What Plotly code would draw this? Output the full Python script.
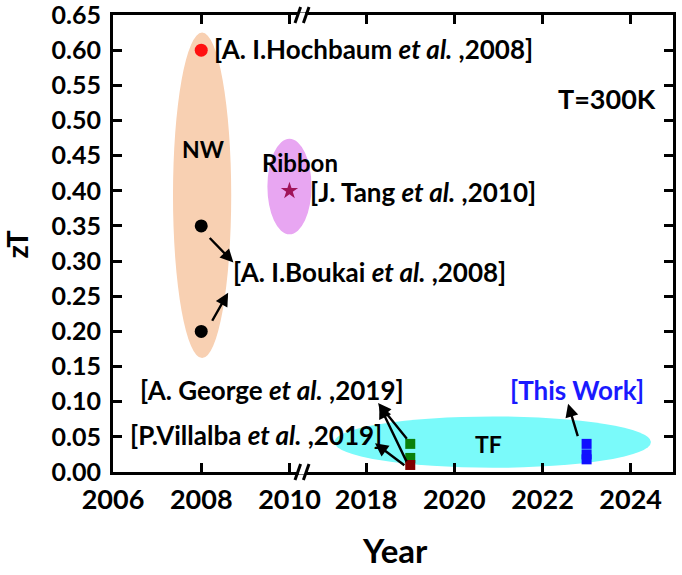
import plotly.graph_objects as go

# ---------------- data ----------------
hoch_x = [2008]; hoch_y = [0.60]
bouk_x = [2008, 2008]; bouk_y = [0.35, 0.20]
tang_x = [2010]; tang_y = [0.40]
george_x = [2019, 2019]; george_y = [0.04, 0.02]
villa_x = [2019]; villa_y = [0.01]
work_x = [2023, 2023, 2023]; work_y = [0.04, 0.025, 0.018]

left_ticks = [2006, 2008, 2010]
right_ticks = [2018, 2020, 2022, 2024]
y_ticks = [round(0.05 * i, 2) for i in range(14)]

FONT = "Lato"
fig = go.Figure()

def mk(x, y, color, symbol, size, xa, ya, name):
    fig.add_trace(go.Scatter(x=x, y=y, mode="markers", name=name,
                             marker=dict(color=color, symbol=symbol, size=size, line=dict(width=0)),
                             xaxis=xa, yaxis=ya, showlegend=False, cliponaxis=False))

mk(hoch_x, hoch_y, "#ff1010", "circle", 13, "x", "y", "Hochbaum")
mk(bouk_x, bouk_y, "black", "circle", 13, "x", "y", "Boukai")
mk(tang_x, tang_y, "#a0145a", "star", 13, "x", "y", "Tang")
mk(george_x, george_y, "#0a800a", "square", 10, "x2", "y2", "George")
mk(villa_x, villa_y, "#800000", "square", 10, "x2", "y2", "Villalba")
mk(work_x, work_y, "#1010ff", "square", 10, "x2", "y2", "This Work")

# ellipses
shapes = [
    dict(type="circle", xref="x", yref="y", x0=2007.36, x1=2008.68, y0=0.162, y1=0.625,
         fillcolor="rgb(248,208,178)", line=dict(width=0), layer="below"),
    dict(type="circle", xref="x", yref="y", x0=2009.5, x1=2010.5, y0=0.338, y1=0.474,
         fillcolor="rgb(232,166,242)", line=dict(width=0), layer="below"),
    dict(type="circle", xref="x2", yref="y2", x0=2017.28, x1=2024.46, y0=0.006, y1=0.079,
         fillcolor="rgb(122,250,250)", line=dict(width=0), layer="below"),
]

# axis break marks
bx = 0.3375
dy_top = 8 / 457
for yb in (0, 1):
    shapes.append(dict(type="line", xref="paper", yref="paper", x0=bx - 0.006, x1=bx + 0.006,
                       y0=yb, y1=yb, line=dict(color="white", width=5), layer="above"))
    for off in (-0.0075, 0.0075):
        shapes.append(dict(type="line", xref="paper", yref="paper",
                           x0=bx + off - 0.005, x1=bx + off + 0.005,
                           y0=yb - dy_top, y1=yb + dy_top,
                           line=dict(color="black", width=3), layer="above"))

fig.update_layout(shapes=shapes)

axis_common = dict(ticks="inside", ticklen=9, tickwidth=3, tickcolor="black",
                   showline=True, linewidth=3, linecolor="black", showgrid=False, zeroline=False,
                   ticklabeloverflow="allow", automargin=False,
                   tickfont=dict(family=FONT, size=27, color="black", weight="bold"))
ytickfont = dict(family=FONT, size=25, color="black", weight="bold")

fig.update_layout(
    width=682, height=575,
    margin=dict(l=113, r=9, t=15, b=103, autoexpand=False),
    paper_bgcolor="white", plot_bgcolor="white",
    xaxis=dict(domain=[0, 0.36], range=[2006, 2010.57], tickvals=left_ticks, mirror="ticks",
               anchor="y", ticklabelstandoff=2, **axis_common),
    xaxis2=dict(domain=[0.36, 1], range=[2016.83, 2024.96], tickvals=right_ticks, mirror="ticks",
                anchor="y2", ticklabelstandoff=2, **axis_common),
    yaxis=dict(domain=[0, 1], range=[0, 0.65], tickvals=y_ticks, tickformat=".2f", anchor="x",
               ticklabelstandoff=4, **axis_common),
    yaxis2=dict(domain=[0, 1], range=[0, 0.65], matches="y", tickvals=y_ticks, anchor="x2",
                side="right", showticklabels=False, **axis_common),
)
fig.update_yaxes(tickfont=ytickfont)

lab_font = dict(family=FONT, size=26, color="black", weight="bold")
ann = []

def text(x, y, t, xref, yref, xanchor="left", font=lab_font):
    ann.append(dict(x=x, y=y, xref=xref, yref=yref, text=t, showarrow=False,
                    xanchor=xanchor, yanchor="middle", font=font))

def arrow(tx, ty, hx, hy, xref, yref):
    ann.append(dict(x=hx, y=hy, ax=tx, ay=ty, xref=xref, yref=yref, axref=xref, ayref=yref,
                    text="", showarrow=True, arrowhead=2, arrowsize=1.1, arrowwidth=2.4,
                    arrowcolor="black", standoff=0, startstandoff=0))

text(2008.25, 0.602, "[A. I.Hochbaum <i>et al.</i> ,2008]", "x", "y")
text(2010.42, 0.398, "[J. Tang <i>et al.</i> ,2010]", "x", "y")
text(2008.68, 0.284, "[A. I.Boukai <i>et al.</i> ,2008]", "x", "y")
text(2008.05, 0.46, "NW", "x", "y", xanchor="center", font=dict(lab_font, size=23))
text(2010.23, 0.44, "Ribbon", "x", "y", xanchor="center", font=dict(lab_font, size=24))
text(2006.57, 0.117, "[A. George <i>et al.</i> ,2019]", "x", "y")
text(2006.34, 0.0525, "[P.Villalba <i>et al.</i> ,2019]", "x", "y")
text(2023.47, 0.531, "T=300K", "x2", "y2", xanchor="center", font=dict(lab_font, size=27))
text(2020.77, 0.04, "TF", "x2", "y2", xanchor="center", font=dict(lab_font, size=23))
text(2022.78, 0.117, "[This Work]", "x2", "y2", xanchor="center",
     font=dict(family=FONT, size=26, color="#1a1aff", weight="bold"))

arrow(2008.16, 0.335, 2008.73, 0.298, "x", "y")
arrow(2008.23, 0.213, 2008.61, 0.255, "x", "y")
arrow(2018.95, 0.045, 2018.27, 0.098, "x2", "y2")
arrow(2018.93, 0.013, 2018.3, 0.095, "x2", "y2")
arrow(2018.9, 0.008, 2018.2, 0.041, "x2", "y2")
arrow(2022.81, 0.049, 2022.58, 0.097, "x2", "y2")

ann.append(dict(x=-0.172, y=0.497, xref="paper", yref="paper", text="zT", showarrow=False,
                textangle=-90, xanchor="center", yanchor="middle",
                font=dict(family=FONT, size=29, color="black", weight="bold")))
ann.append(dict(x=0.5036, y=-0.219, xref="paper", yref="paper", text="Year", showarrow=False,
                xanchor="center", yanchor="bottom",
                font=dict(family=FONT, size=33, color="black", weight="bold")))

fig.update_layout(annotations=ann)
fig.write_html("out.html", config={"displayModeBar": False},
               post_script="document.body.style.margin='0px';")
